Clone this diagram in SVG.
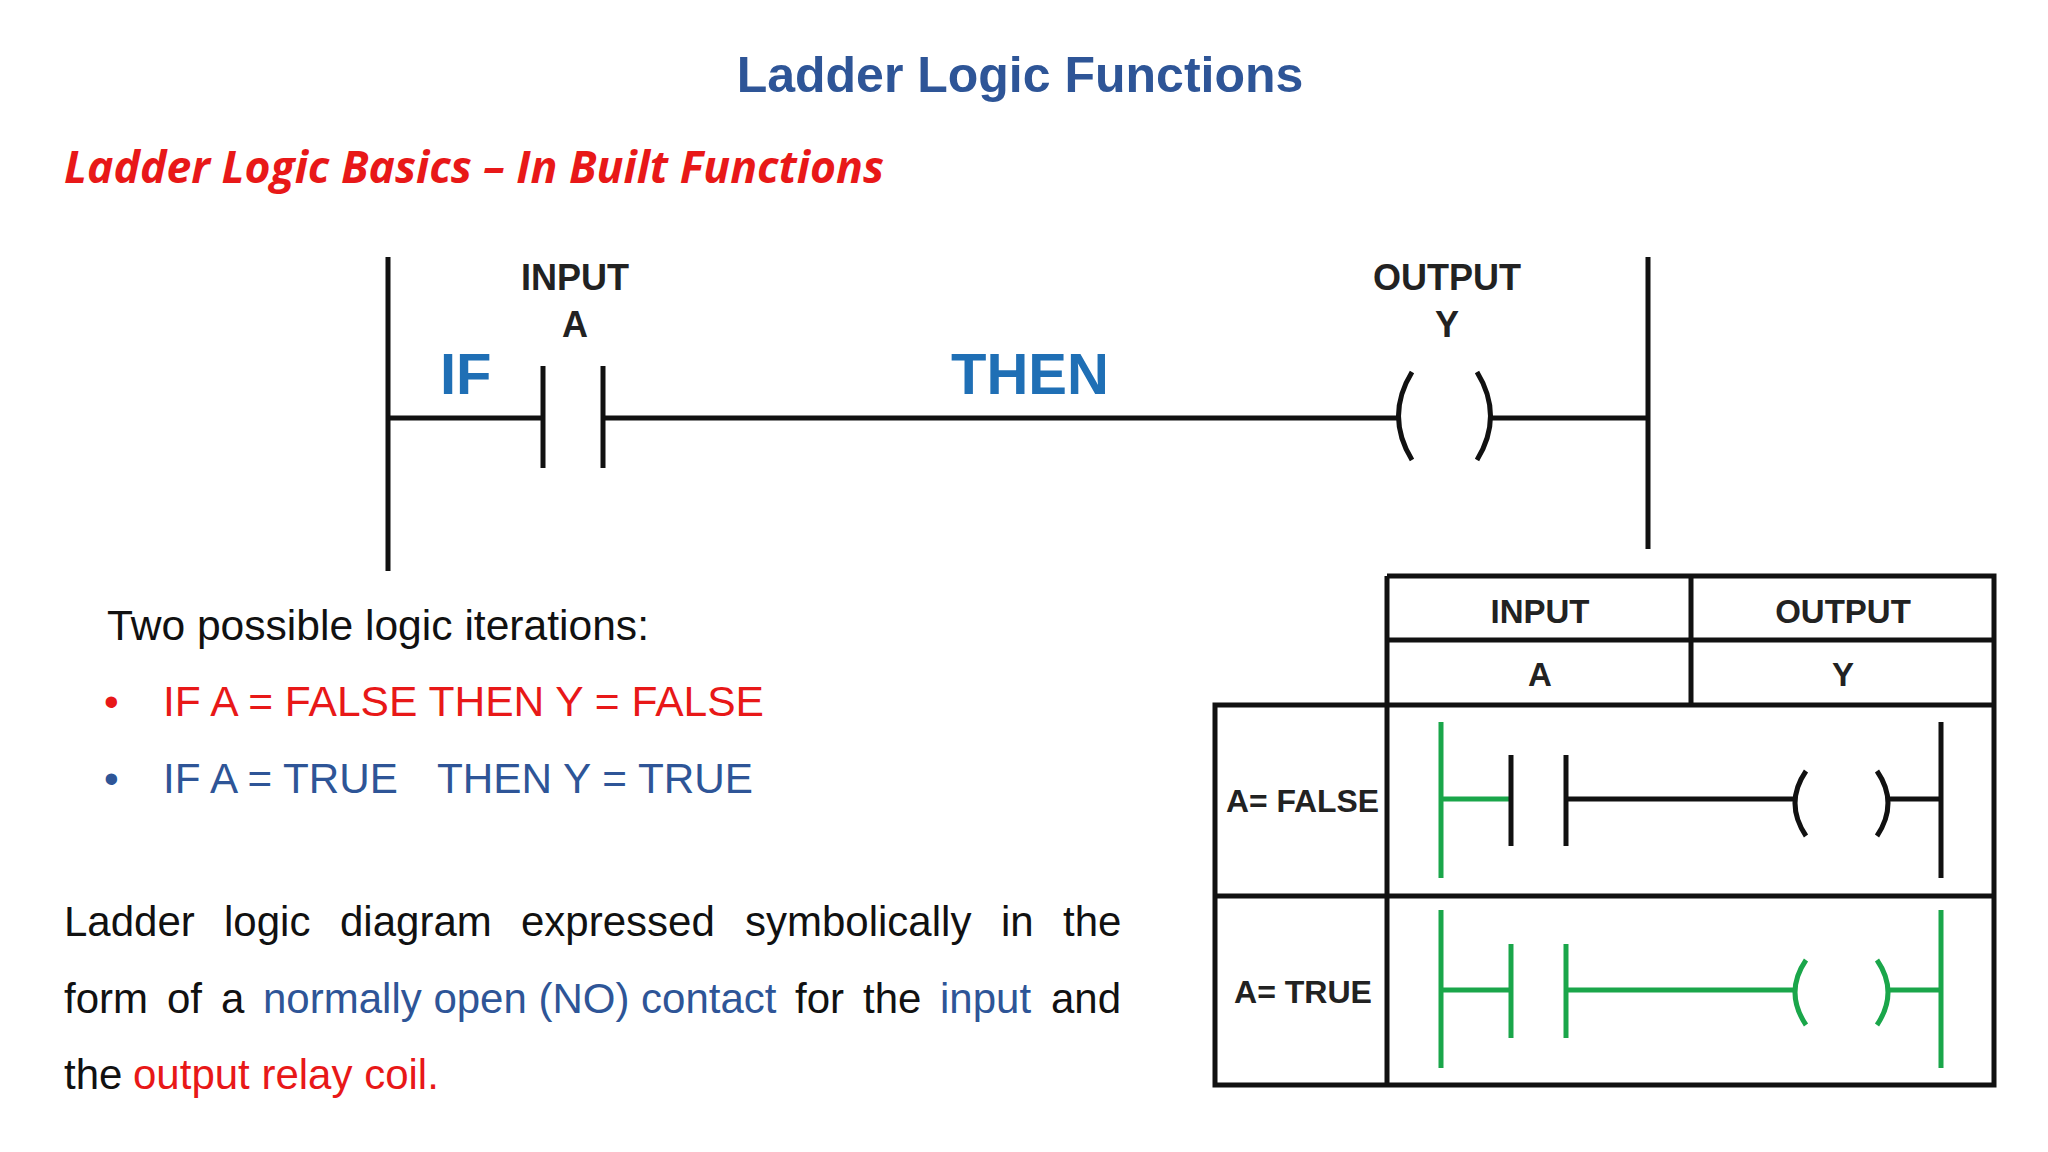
<svg xmlns="http://www.w3.org/2000/svg" width="2048" height="1152" viewBox="0 0 2048 1152">
<style>
.k{stroke:#111;stroke-width:5;fill:none}
.g{stroke:#1aa64a;stroke-width:5;fill:none}
.t{stroke:#111;stroke-width:5;fill:none}
.lb{font-family:"Liberation Sans",Arial,sans-serif;font-weight:bold;fill:#222}
.tx{font-family:"Liberation Sans",Arial,sans-serif;font-size:42px;fill:#111}
.bl{fill:#2e5597}.rd{fill:#e81818}
</style>
<rect width="2048" height="1152" fill="#fff"/>
<text x="1020" y="92" text-anchor="middle" font-family="Liberation Sans,Arial,sans-serif" font-weight="bold" font-size="50" fill="#2e5597">Ladder Logic Functions</text>
<text x="64" y="183" font-family="Open Sans,Liberation Sans,sans-serif" font-weight="bold" font-style="italic" font-size="44" fill="#e81818" textLength="820" lengthAdjust="spacingAndGlyphs">Ladder Logic Basics – In Built Functions</text>
<g id="ladder">
<line class="k" x1="388" y1="257" x2="388" y2="571"/>
<line class="k" x1="1648" y1="257" x2="1648" y2="549"/>
<line class="k" x1="543" y1="366" x2="543" y2="468"/>
<line class="k" x1="603" y1="366" x2="603" y2="468"/>
<path class="k" d="M1412 372 Q1385 416 1412 460 M1477 372 Q1504 416 1477 460"/>
<text class="lb" x="575" y="290" text-anchor="middle" font-size="36">INPUT</text>
<text class="lb" x="575" y="337" text-anchor="middle" font-size="36">A</text>
<text class="lb" x="1447" y="290" text-anchor="middle" font-size="36">OUTPUT</text>
<text class="lb" x="1447" y="337" text-anchor="middle" font-size="36">Y</text>
<text x="440" y="394" font-family="Liberation Sans,Arial,sans-serif" font-weight="bold" font-size="58" fill="#1f6fb5">IF</text>
<text x="951" y="394" font-family="Liberation Sans,Arial,sans-serif" font-weight="bold" font-size="58" fill="#1f6fb5">THEN</text>
</g>
<g id="connectors">
<line class="k" x1="388" y1="418" x2="543" y2="418"/>
<line class="k" x1="603" y1="418" x2="1398" y2="418"/>
<line class="k" x1="1491" y1="418" x2="1648" y2="418"/>
</g>
<g id="table">
<path class="t" d="M1387 576 H1994 V1085 H1215 V705 H1994 M1387 576 V1085 M1387 640 H1994 M1691 576 V705 M1215 896 H1994"/>
<text class="lb" x="1540" y="623" text-anchor="middle" font-size="33">INPUT</text>
<text class="lb" x="1843" y="623" text-anchor="middle" font-size="33">OUTPUT</text>
<text class="lb" x="1540" y="686" text-anchor="middle" font-size="33">A</text>
<text class="lb" x="1843" y="686" text-anchor="middle" font-size="33">Y</text>
<text class="lb" x="1226" y="812" font-size="32" textLength="153" lengthAdjust="spacingAndGlyphs">A= FALSE</text>
<text class="lb" x="1234" y="1003" font-size="32" textLength="138" lengthAdjust="spacingAndGlyphs">A= TRUE</text>
<g id="row-false">
<line class="g" x1="1441" y1="722" x2="1441" y2="878"/>
<line class="g" x1="1441" y1="799" x2="1511" y2="799"/>
<line class="k" x1="1511" y1="755" x2="1511" y2="846"/>
<line class="k" x1="1566" y1="755" x2="1566" y2="846"/>
<line class="k" x1="1566" y1="799" x2="1796" y2="799"/>
<path class="k" d="M1806 771 Q1784 803 1806 836 M1877 771 Q1899 803 1877 836"/>
<line class="k" x1="1887" y1="799" x2="1941" y2="799"/>
<line class="k" x1="1941" y1="722" x2="1941" y2="878"/>
</g>
<g id="row-true">
<line class="g" x1="1441" y1="910" x2="1441" y2="1068"/>
<line class="g" x1="1441" y1="990" x2="1511" y2="990"/>
<line class="g" x1="1511" y1="944" x2="1511" y2="1038"/>
<line class="g" x1="1566" y1="944" x2="1566" y2="1038"/>
<line class="g" x1="1566" y1="990" x2="1796" y2="990"/>
<path class="g" d="M1806 960 Q1784 992 1806 1025 M1877 960 Q1899 992 1877 1025"/>
<line class="g" x1="1887" y1="990" x2="1941" y2="990"/>
<line class="g" x1="1941" y1="910" x2="1941" y2="1068"/>
</g>
</g>
<g id="text">
<text class="tx" x="107" y="640" textLength="542" lengthAdjust="spacingAndGlyphs">Two possible logic iterations:</text>
<text class="tx rd" x="104" y="716">•</text>
<text class="tx rd" x="163" y="716" textLength="601" lengthAdjust="spacingAndGlyphs">IF A = FALSE THEN Y = FALSE</text>
<text class="tx bl" x="104" y="793">•</text>
<text class="tx bl" x="163" y="793" textLength="235" lengthAdjust="spacingAndGlyphs">IF A = TRUE</text>
<text class="tx bl" x="437" y="793" textLength="316" lengthAdjust="spacingAndGlyphs">THEN Y = TRUE</text>
<text class="tx" y="936"><tspan x="64">Ladder</tspan><tspan x="224">logic</tspan><tspan x="340">diagram</tspan><tspan x="521">expressed</tspan><tspan x="745">symbolically</tspan><tspan x="1001">in</tspan><tspan x="1063">the</tspan></text>
<text class="tx" y="1013"><tspan x="64">form</tspan><tspan x="167">of</tspan><tspan x="221">a</tspan><tspan x="263" class="bl">normally open (NO) contact</tspan><tspan x="795">for</tspan><tspan x="863">the</tspan><tspan x="940" class="bl">input</tspan><tspan x="1051">and</tspan></text>
<text class="tx" y="1089"><tspan x="64">the</tspan><tspan x="133" class="rd">output relay coil.</tspan></text>
</g>
</svg>
